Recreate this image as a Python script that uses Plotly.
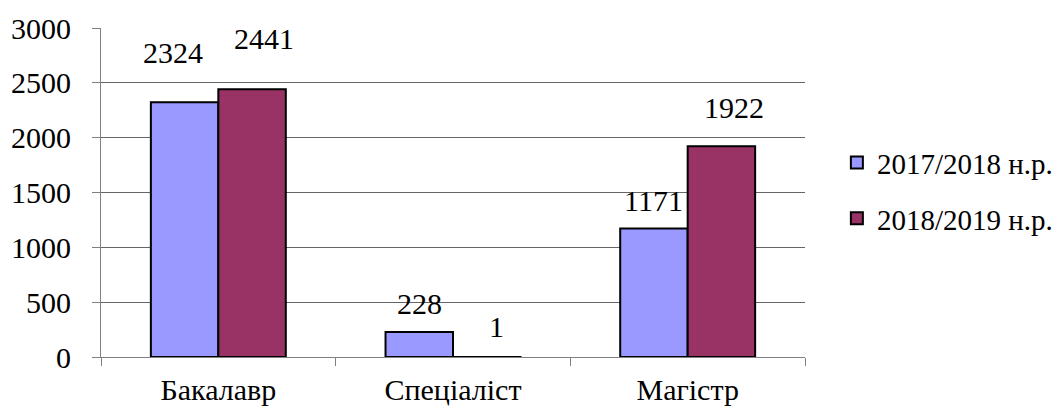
import plotly.graph_objects as go

categories = ["Бакалавр", "Спеціаліст", "Магістр"]
series_names = ["2017/2018 н.р.", "2018/2019 н.р."]
values_2017 = [2324, 228, 1171]
values_2018 = [2441, 1, 1922]
colors = ["#9999FF", "#993366"]
y_ticks = [0, 500, 1000, 1500, 2000, 2500, 3000]

# label offsets (pixels) to mimic the reference placement
label_yshift = [[50, 29, 28], [51, 30, 39]]
label_xshift = [[-45, -34, -34], [46, 43, 46]]

FONT = "Liberation Serif"

fig = go.Figure()
for name, vals, col in zip(series_names, [values_2017, values_2018], colors):
    fig.add_trace(go.Bar(
        x=categories, y=vals, name=name, legendgroup=name,
        marker=dict(color=col, line=dict(color="black", width=2)),
    ))

annotations = []
for si, vals in enumerate([values_2017, values_2018]):
    for ci, v in enumerate(vals):
        annotations.append(dict(
            x=categories[ci], y=v, xref="x", yref="y", text=str(v),
            showarrow=False, xshift=label_xshift[si][ci], yshift=label_yshift[si][ci],
            yanchor="middle", font=dict(family=FONT, size=30, color="black"),
        ))

fig.update_layout(
    width=1054, height=410,
    margin=dict(l=101, r=249, t=28, b=53),
    paper_bgcolor="white", plot_bgcolor="white",
    barmode="group", bargap=0.425, bargroupgap=0,
    font=dict(family=FONT, size=30, color="black"),
    showlegend=True,
    legend=dict(xref="container", yref="container", x=0.794, y=0.535,
                xanchor="left", yanchor="middle",
                font=dict(family=FONT, size=29), tracegroupgap=15,
                itemwidth=30, traceorder="grouped", bgcolor="rgba(0,0,0,0)",
                borderwidth=0),
    annotations=annotations,
)
fig.update_xaxes(
    showline=True, linecolor="#808080", linewidth=1, automargin=False,
    ticks="outside", tickson="boundaries", ticklen=8, tickcolor="#808080",
    ticklabelstandoff=6,
    showgrid=False, tickfont=dict(family=FONT, size=30),
)
fig.update_yaxes(
    range=[0, 3000], tickvals=y_ticks, showline=True, linecolor="#808080", linewidth=1,
    automargin=False,
    ticks="outside", ticklen=8, tickcolor="#808080",
    ticklabelstandoff=15,
    showgrid=True, gridcolor="#666666", gridwidth=1, zeroline=False,
    tickfont=dict(family=FONT, size=30),
)
fig.write_html("out.html", config={"displayModeBar": False},
               post_script="document.body.style.margin='0';document.body.style.overflow='hidden';")
